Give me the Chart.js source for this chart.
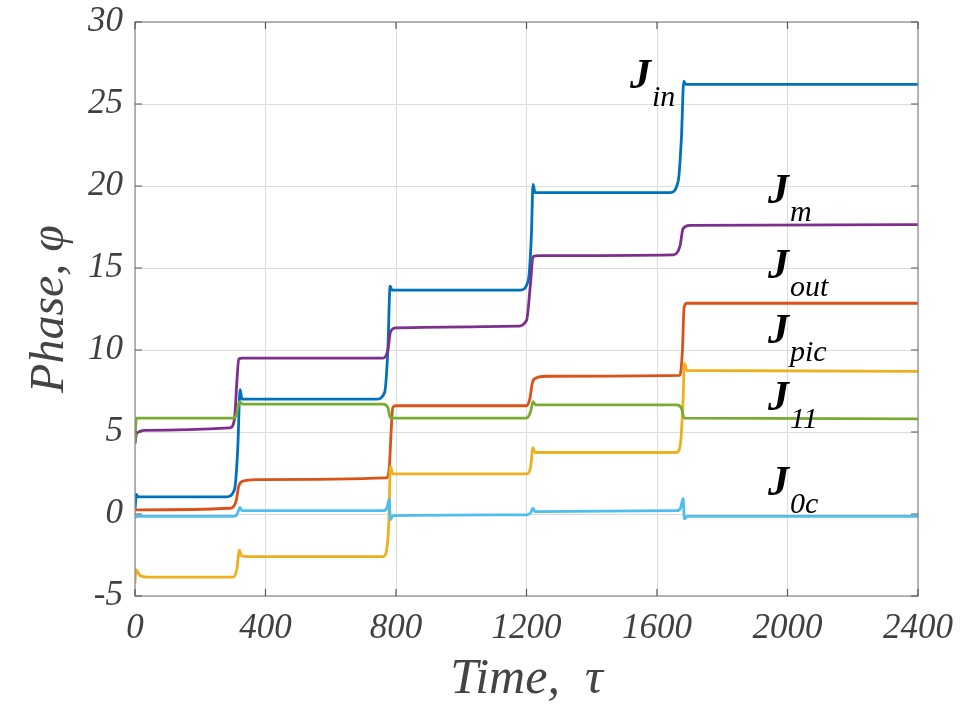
<!DOCTYPE html>
<html>
<head>
<meta charset="utf-8">
<script src="https://cdn.jsdelivr.net/npm/chart.js@4.4.1/dist/chart.umd.min.js"></script>
<style>
  body { margin: 0; background: #fff; }
</style>
</head>
<body>
<canvas id="myChart" width="970" height="706"></canvas>
<script>
// [time, phase] pairs
let jIn = [[0,0.2],[4,1.2],[10,1.05],[280,1.05],[305,1.5],[315,4],[322,7.6],[328,7.0],[740,7.0],[765,7.4],[775,10],[782,13.9],[788,13.65],[1180,13.65],[1205,14.2],[1215,17],[1220,20.1],[1226,19.6],[1640,19.6],[1665,20.3],[1675,23],[1682,26.4],[1688,26.2],[2400,26.2]];
let jM = [[0,4.3],[5,4.9],[30,5.1],[290,5.25],[305,5.8],[312,8],[318,9.45],[330,9.5],[760,9.5],[775,10],[783,11.1],[800,11.35],[1170,11.45],[1200,11.8],[1212,14],[1220,15.7],[1240,15.75],[1650,15.8],[1670,16.3],[1680,17.4],[1700,17.6],[2400,17.65]];
let jOut = [[0,0.25],[290,0.35],[310,0.8],[318,1.7],[330,2.0],[370,2.1],[770,2.2],[780,3],[785,5],[790,6.5],[800,6.6],[1200,6.6],[1210,7.0],[1218,8.0],[1230,8.3],[1260,8.4],[1670,8.45],[1678,10],[1683,12.6],[1692,12.85],[2400,12.85]];
let jPic = [[0,-4.2],[3,-3.4],[15,-3.75],[40,-3.85],[300,-3.85],[312,-3.4],[320,-2.2],[326,-2.55],[360,-2.6],[760,-2.6],[772,-2.1],[778,-0.5],[783,2.9],[790,2.45],[1200,2.45],[1212,2.8],[1220,4.05],[1226,3.75],[1660,3.75],[1672,4.3],[1680,7],[1684,9.2],[1692,8.75],[2400,8.7]];
let j11 = [[0,4.3],[4,5.85],[300,5.85],[310,6.0],[320,6.85],[330,6.7],[760,6.7],[775,6.5],[782,5.9],[790,5.85],[1200,5.85],[1212,6.2],[1220,6.85],[1228,6.65],[1660,6.65],[1675,6.45],[1683,5.85],[2400,5.8]];
let j0c = [[0,-0.25],[5,-0.15],[300,-0.15],[312,-0.05],[322,0.4],[328,0.2],[760,0.2],[772,0.35],[779,0.9],[783,-0.35],[790,-0.1],[1200,-0.05],[1212,0.05],[1220,0.35],[1226,0.15],[1660,0.2],[1672,0.35],[1680,0.95],[1684,-0.3],[1692,-0.15],[2400,-0.15]];

let xTicks = [0,400,800,1200,1600,2000,2400];
let yTicks = [-5,0,5,10,15,20,25,30];

// curve labels: [main, subscript, time, phase]
let curveLabels = [
  ['J','in',1517,25.98],
  ['J','m',1940,18.96],
  ['J','out',1940,14.4],
  ['J','pic',1940,10.4],
  ['J','11',1940,6.34],
  ['J','0c',1940,1.16]
];

function pts(arr) {
  return arr.map(p => ({x: p[0], y: p[1]}));
}

let series = [
  {label: 'J_0c', data: j0c, color: '#4DBEEE'},
  {label: 'J_11', data: j11, color: '#77AC30'},
  {label: 'J_pic', data: jPic, color: '#EDB120'},
  {label: 'J_out', data: jOut, color: '#D95319'},
  {label: 'J_m', data: jM, color: '#7E2F8E'},
  {label: 'J_in', data: jIn, color: '#0072BD'}
];

let datasets = series.map(s => ({
  label: s.label,
  data: pts(s.data),
  borderColor: s.color,
  backgroundColor: s.color,
  borderWidth: 2.8,
  pointRadius: 0,
  cubicInterpolationMode: 'monotone',
  fill: false
}));

let boxPlugin = {
  id: 'box',
  afterDraw(chart) {
    let c = chart.ctx, a = chart.chartArea;
    let xs = chart.scales.x, ys = chart.scales.y;
    c.save();
    c.strokeStyle = '#8a8a8a';
    c.lineWidth = 1.2;
    c.strokeRect(a.left, a.top, a.right - a.left, a.bottom - a.top);
    c.strokeStyle = '#555';
    c.beginPath();
    xTicks.forEach(t => {
      let px = xs.getPixelForValue(t);
      c.moveTo(px, a.bottom); c.lineTo(px, a.bottom - 7);
      c.moveTo(px, a.top); c.lineTo(px, a.top + 7);
    });
    yTicks.forEach(t => {
      let py = ys.getPixelForValue(t);
      c.moveTo(a.left, py); c.lineTo(a.left + 7, py);
      c.moveTo(a.right, py); c.lineTo(a.right - 7, py);
    });
    c.stroke();
    // curve labels
    c.fillStyle = '#000';
    c.textBaseline = 'alphabetic';
    c.textAlign = 'left';
    curveLabels.forEach(l => {
      let px = xs.getPixelForValue(l[2]);
      let py = ys.getPixelForValue(l[3]);
      c.font = 'italic bold 42px "Liberation Serif"';
      c.fillText(l[0], px, py);
      c.font = 'italic 30px "Liberation Serif"';
      c.fillText(l[1], px + 22, py + 18);
    });
    c.restore();
  }
};

let ctx = document.getElementById('myChart').getContext('2d');
let myChart = new Chart(ctx, {
  type: 'line',
  data: {datasets: datasets},
  plugins: [boxPlugin],
  options: {
    responsive: false,
    animation: false,
    layout: {padding: {top: 22, right: 52, left: 0, bottom: 0}},
    plugins: {legend: {display: false}, tooltip: {enabled: false}},
    scales: {
      x: {
        type: 'linear',
        min: 0, max: 2400,
        afterBuildTicks: s => { s.ticks = xTicks.map(v => ({value: v})); },
        afterFit: s => { s.height = 110; s.paddingLeft = 0; s.paddingRight = 0; },
        grid: {color: '#dcdcdc', lineWidth: 1, drawTicks: false},
        border: {display: false},
        ticks: {
          color: '#404040',
          padding: 12,
          maxRotation: 0,
          callback: v => String(v),
          font: {family: 'Liberation Serif', style: 'italic', size: 35}
        },
        title: {
          display: true,
          text: 'Time,  τ',
          color: '#444',
          padding: {top: 0, bottom: -4},
          font: {family: 'Liberation Serif', style: 'italic', size: 50}
        }
      },
      y: {
        min: -5, max: 30,
        afterBuildTicks: s => { s.ticks = yTicks.map(v => ({value: v})); },
        afterFit: s => { s.width = 135; s.paddingTop = 0; s.paddingBottom = 0; },
        grid: {color: '#dcdcdc', lineWidth: 1, drawTicks: false},
        border: {display: false},
        ticks: {
          color: '#404040',
          padding: 12,
          font: {family: 'Liberation Serif', style: 'italic', size: 35}
        },
        title: {
          display: true,
          text: 'Phase, φ',
          color: '#444',
          padding: {top: 22, bottom: 0},
          font: {family: 'Liberation Serif', style: 'italic', size: 48}
        }
      }
    }
  }
});
</script>
</body>
</html>
